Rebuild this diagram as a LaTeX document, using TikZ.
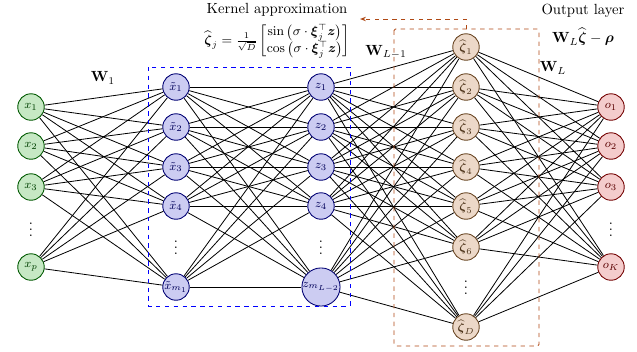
\documentclass[tikz,border=0pt]{standalone}
\usepackage{amsmath}
\usetikzlibrary{arrows.meta}
\definecolor{boxorange}{RGB}{175,72,20}
\definecolor{infill}{RGB}{198,232,196}
\definecolor{hidfill}{RGB}{204,204,242}
\definecolor{rfffill}{RGB}{236,216,200}
\definecolor{outfill}{RGB}{244,204,204}
\tikzset{
  neuron/.style={circle, minimum size=18pt, inner sep=0pt, line width=0.6pt, font=\footnotesize},
  inneuron/.style={neuron, fill=infill, draw=green!35!black, text=green!25!black},
  hidneuron/.style={neuron, fill=hidfill, draw=blue!45!black, text=blue!35!black},
  rffneuron/.style={neuron, fill=rfffill, draw=brown!55!black, text=brown!40!black},
  outneuron/.style={neuron, fill=outfill, draw=red!45!black, text=red!35!black},
  link/.style={line width=0.55pt, black},
  vdots/.style={font=\normalsize, inner sep=0pt},
  wlabel/.style={font=\normalsize, inner sep=1pt},
  caption/.style={inner sep=0.5pt},
  frame/.style={dashed, line width=0.6pt},
}
\begin{document}
\begin{tikzpicture}[x=0.68pt, y=-0.68pt]
\useasboundingbox (0,0) rectangle (637,351);

% input layer
\node[inneuron] (x1) at (31,107) {$x_1$};
\node[inneuron] (x2) at (31,146) {$x_2$};
\node[inneuron] (x3) at (31,187) {$x_3$};
\node[vdots] (xd) at (31,225) {$\vdots$};
\node[inneuron] (x4) at (31,267) {$x_p$};

% first hidden layer
\node[hidneuron] (a1) at (176,87) {$\tilde{x}_1$};
\node[hidneuron] (a2) at (176,127) {$\tilde{x}_2$};
\node[hidneuron] (a3) at (176,167) {$\tilde{x}_3$};
\node[hidneuron] (a4) at (176,206) {$\tilde{x}_4$};
\node[vdots] (ad) at (176,243) {$\vdots$};
\node[hidneuron] (a5) at (176,287) {$\tilde{x}_{m_1}$};

% last hidden layer
\node[hidneuron] (b1) at (321,87) {$z_1$};
\node[hidneuron] (b2) at (321,127) {$z_2$};
\node[hidneuron] (b3) at (321,167) {$z_3$};
\node[hidneuron] (b4) at (321,206) {$z_4$};
\node[vdots] (bd) at (321,243) {$\vdots$};
\node[hidneuron, minimum size=24.5pt] (b5) at (321,287) {$z_{m_{L-2}}$};

% random feature layer
\node[rffneuron] (c1) at (466,47) {$\widehat{\boldsymbol\zeta}_1$};
\node[rffneuron] (c2) at (466,87) {$\widehat{\boldsymbol\zeta}_2$};
\node[rffneuron] (c3) at (466,127) {$\widehat{\boldsymbol\zeta}_3$};
\node[rffneuron] (c4) at (466,167) {$\widehat{\boldsymbol\zeta}_4$};
\node[rffneuron] (c5) at (466,206) {$\widehat{\boldsymbol\zeta}_5$};
\node[rffneuron] (c6) at (466,247) {$\widehat{\boldsymbol\zeta}_6$};
\node[vdots] (cd) at (466,283) {$\vdots$};
\node[rffneuron] (c7) at (466,327) {$\widehat{\boldsymbol\zeta}_D$};

% output layer
\node[outneuron] (o1) at (611,107) {$o_1$};
\node[outneuron] (o2) at (611,146) {$o_2$};
\node[outneuron] (o3) at (611,187) {$o_3$};
\node[vdots] (od) at (611,225) {$\vdots$};
\node[outneuron] (o4) at (611,267) {$o_K$};

% dense connections
\foreach \i in {1,...,4} \foreach \j in {1,...,5} \draw[link] (x\i) -- (a\j);
\foreach \i in {1,...,5} \foreach \j in {1,...,5} \draw[link] (a\i) -- (b\j);
\foreach \i in {1,...,5} \foreach \j in {1,...,7} \draw[link] (b\i) -- (c\j);
\foreach \i in {1,...,7} \foreach \j in {1,...,4} \draw[link] (c\i) -- (o\j);

% hidden block frame
\coordinate (hbA) at (148,67);
\coordinate (hbB) at (350,306);
\draw[frame, blue] (hbA) rectangle (hbB);

% kernel approximation frame and pointer
\coordinate (kbA) at (394,29);
\coordinate (kbB) at (539,346);
\coordinate (kpA) at (466,29);
\coordinate (kpB) at (466,19);
\coordinate (kpC) at (360,19);
\draw[frame, boxorange, line width=0.65pt, rounded corners=1pt] (kbA) rectangle (kbB);
\draw[frame, boxorange, line width=0.65pt, -{Stealth[length=4pt]}] (kpA) -- (kpB) -- (kpC);

% weight labels
\node[wlabel] (w1) at (103,78) {$\mathbf{W}_1$};
\node[wlabel] (wl1) at (386,52) {$\mathbf{W}_{L-1}$};
\node[wlabel] (wl) at (553,68) {$\mathbf{W}_L$};

% captions
\node[caption] (kcap) at (277,10) {Kernel approximation};
\node[caption, font=\small] (kform) at (277,41)
  {$\widehat{\boldsymbol\zeta}_j = \frac{1}{\sqrt{D}}
    \begin{bmatrix}\sin\left(\sigma\cdot\boldsymbol\xi_j^{\top}\boldsymbol z\right)\\
    \cos\left(\sigma\cdot\boldsymbol\xi_j^{\top}\boldsymbol z\right)\end{bmatrix}$};
\node[caption] (ocap) at (583,11) {Output layer};
\node[caption] (oform) at (583,37) {$\mathbf{W}_L\widehat{\boldsymbol\zeta}-\boldsymbol\rho$};
\end{tikzpicture}
\end{document}
